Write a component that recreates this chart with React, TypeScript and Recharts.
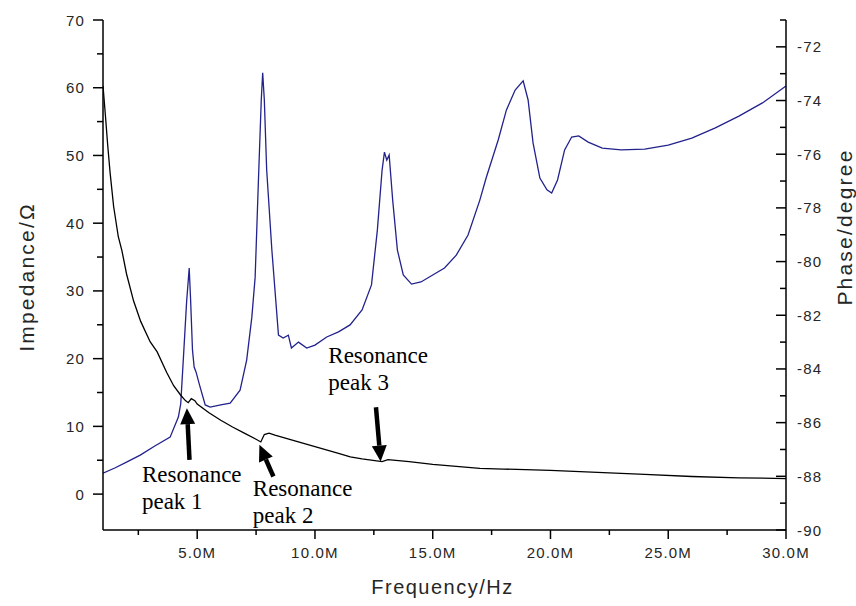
import React from "react";
import { LineChart, Line, XAxis, YAxis, ReferenceLine, ReferenceDot } from "recharts";

// phase (blue, right axis) — frequency in MHz, phase in degrees
const phaseFreq = [
  1.0, 1.5, 2.0, 2.58, 3.2, 3.85, 4.2, 4.3, 4.42, 4.55, 4.66, 4.72, 4.8, 4.87, 4.95, 5.1, 5.34, 5.55, 6.0,
  6.4, 6.82, 7.1, 7.32, 7.46, 7.6, 7.72, 7.78, 7.85, 7.95, 8.17, 8.45, 8.65, 8.87, 9.0, 9.3, 9.65, 10.0,
  10.5, 11.0, 11.49, 12.0, 12.4, 12.65, 12.85, 12.95, 13.05, 13.15, 13.3, 13.5, 13.75, 14.1, 14.5, 15.0,
  15.5, 16.0, 16.5, 17.0, 17.28, 17.78, 18.13, 18.5, 18.84, 19.05, 19.26, 19.55, 19.85, 20.05, 20.3, 20.6,
  20.9, 21.2, 21.6, 22.2, 23.0, 24.0, 25.0, 26.0, 27.0, 28.0, 29.0, 30.0,
];
const phaseDeg = [
  -87.88, -87.69, -87.47, -87.21, -86.87, -86.54, -85.79, -85.3, -83.5, -81.5, -80.24, -81.43, -83.3, -83.93,
  -84.11, -84.6, -85.34, -85.42, -85.34, -85.27, -84.79, -83.67, -82.07, -80.58, -76.96, -73.98, -72.97,
  -73.98, -76.59, -79.57, -82.74, -82.85, -82.74, -83.22, -83.0, -83.22, -83.11, -82.81, -82.62, -82.36,
  -81.8, -80.87, -78.82, -76.59, -75.92, -76.22, -76.03, -77.71, -79.57, -80.5, -80.84, -80.76, -80.5,
  -80.24, -79.76, -79.01, -77.71, -76.85, -75.47, -74.35, -73.61, -73.27, -73.98, -75.58, -76.89, -77.33,
  -77.45, -76.96, -75.84, -75.36, -75.32, -75.55, -75.77, -75.84, -75.81, -75.66, -75.4, -75.02, -74.58,
  -74.09, -73.46,
];

// impedance (black, left axis)
const impFreq = [
  1.0, 1.1, 1.2, 1.3, 1.45, 1.65, 1.8, 2.0, 2.3, 2.6, 3.0, 3.3, 3.7, 4.0, 4.3, 4.5, 4.62, 4.75, 4.9, 5.0,
  5.5, 6.0, 6.5, 7.0, 7.5, 7.7, 7.85, 8.05, 8.3, 9.0, 10.0, 11.0, 11.5, 12.0, 12.85, 13.1, 14.0, 15.0, 16.0,
  17.0, 18.0, 20.0, 22.0, 24.0, 26.0, 28.0, 30.0,
];
const impOhm = [
  60.3, 56, 51.5, 47.5, 42.5, 38, 36, 32.5, 28.5, 25.5, 22.5, 21, 18, 16, 14.6, 13.8, 13.5, 14.1, 13.8, 13.3,
  12.0, 10.9, 9.9, 9.0, 8.1, 7.7, 8.8, 9.0, 8.7, 8.0, 7.0, 6.0, 5.5, 5.2, 4.8, 5.1, 4.8, 4.4, 4.1, 3.8, 3.7,
  3.5, 3.2, 2.9, 2.6, 2.4, 2.3,
];

const xTicks = [2.5, 5, 7.5, 10, 12.5, 15, 17.5, 20, 22.5, 25, 27.5, 30];
const leftTicks = [0, 5, 10, 15, 20, 25, 30, 35, 40, 45, 50, 55, 60, 65, 70];
const rightTicks = [-90, -89, -88, -87, -86, -85, -84, -83, -82, -81, -80, -79, -78, -77, -76, -75, -74, -73, -72, -71];

// annotations, in data coordinates (MHz, Ω)
const noteLabels = [
  ["Resonance", "peak 1"],
  ["Resonance", "peak 2"],
  ["Resonance", "peak 3"],
];
const noteTextAt = [
  [2.654, 1.86],
  [7.361, -0.35],
  [10.567, 19.41],
];
const arrowTail = [
  [4.673, 5.06],
  [8.235, 2.6],
  [12.59, 12.83],
];
const arrowTip = [
  [4.562, 12.68],
  [7.641, 7.27],
  [12.79, 4.81],
];

const phaseData = phaseFreq.map((f, i) => ({ f, v: phaseDeg[i] }));
const impData = impFreq.map((f, i) => ({ f, v: impOhm[i] }));

const SANS = "'Liberation Sans', Arial, sans-serif";
const SERIF = "'Liberation Serif', 'Times New Roman', serif";
const TXT = "#262626";

const LeftTick = ({ x, y, payload }: any) => {
  const major = payload.value % 10 === 0;
  return (
    <g>
      <line x1={x - (major ? 10 : 6)} x2={x} y1={y} y2={y} stroke="#000" strokeWidth={1.5} />
      {major && (
        <text x={x - 18} y={y + 5.5} textAnchor="end" fontFamily={SANS} fontSize={15} letterSpacing={1.2} fill={TXT}>
          {payload.value}
        </text>
      )}
    </g>
  );
};

const RightTick = ({ x, y, payload }: any) => {
  const major = payload.value % 2 === 0;
  return (
    <g>
      <line x1={x - (major ? 10 : 6)} x2={x} y1={y} y2={y} stroke="#000" strokeWidth={1.5} />
      {major && (
        <text x={x + 11} y={y + 5.5} textAnchor="start" fontFamily={SANS} fontSize={15} letterSpacing={1.2} fill={TXT}>
          {payload.value}
        </text>
      )}
    </g>
  );
};

const BottomTick = ({ x, y, payload }: any) => {
  const major = payload.value % 5 === 0;
  return (
    <g>
      <line x1={x} x2={x} y1={y} y2={y + (major ? 9 : 5)} stroke="#000" strokeWidth={1.5} />
      {major && (
        <text x={x} y={y + 28} textAnchor="middle" fontFamily={SANS} fontSize={15} letterSpacing={1.2} fill={TXT}>
          {payload.value.toFixed(1) + "M"}
        </text>
      )}
    </g>
  );
};

const Arrow = ({ x1, y1, x2, y2 }: any) => {
  const dx = x2 - x1;
  const dy = y2 - y1;
  const len = Math.sqrt(dx * dx + dy * dy);
  const ux = dx / len;
  const uy = dy / len;
  const head = 16;
  const half = 7.5;
  const bx = x2 - ux * head;
  const by = y2 - uy * head;
  return (
    <g>
      <line x1={x1} y1={y1} x2={bx} y2={by} stroke="#000" strokeWidth={4.5} />
      <polygon
        points={`${x2},${y2} ${bx - uy * half},${by + ux * half} ${bx + uy * half},${by - ux * half}`}
        fill="#000"
      />
    </g>
  );
};

const NoteText = (lines: string[]) => ({ cx, cy }: any) => (
  <text x={cx} y={cy} fontFamily={SERIF} fontSize={23} fill="#000">
    {lines.map((s, i) => (
      <tspan key={i} x={cx} dy={i === 0 ? 0 : 27}>
        {s}
      </tspan>
    ))}
  </text>
);

const VTitle = (text: string, dxFromLeft: number, cyOffset: number) => ({ viewBox }: any) => {
  const x = viewBox.x + dxFromLeft;
  const y = viewBox.y + viewBox.height / 2 + cyOffset;
  return (
    <text
      x={x}
      y={y}
      transform={`rotate(-90, ${x}, ${y})`}
      textAnchor="middle"
      dominantBaseline="central"
      fontFamily={SANS}
      fontSize={21}
      letterSpacing={2.2}
      fill={TXT}
    >
      {text}
    </text>
  );
};

const XTitle = ({ viewBox }: any) => (
  <text
    x={viewBox.x + viewBox.width / 2 - 2}
    y={viewBox.y + 64}
    textAnchor="middle"
    fontFamily={SANS}
    fontSize={20}
    letterSpacing={1.5}
    fill={TXT}
  >
    Frequency/Hz
  </text>
);

export default function App() {
  return (
    <div style={{ position: "absolute", left: 0, top: 0, background: "#fff" }}>
      <LineChart width={856} height={606} margin={{ top: 20, right: 0, bottom: 0, left: 0 }}>
        <XAxis
          type="number"
          dataKey="f"
          domain={[1, 30]}
          allowDataOverflow
          ticks={xTicks}
          interval={0}
          height={76}
          tickSize={0}
          tickMargin={0}
          tickLine={false}
          tick={BottomTick}
          axisLine={{ stroke: "#000", strokeWidth: 1.5 }}
          label={{ content: XTitle }}
        />
        <YAxis
          yAxisId="left"
          type="number"
          domain={[-5.3, 70]}
          allowDataOverflow
          ticks={leftTicks}
          interval={0}
          width={103}
          tickSize={0}
          tickMargin={0}
          tickLine={false}
          tick={LeftTick}
          axisLine={{ stroke: "#000", strokeWidth: 1.5 }}
          label={{ content: VTitle("Impedance/Ω", 26, 2) }}
        />
        <YAxis
          yAxisId="right"
          orientation="right"
          type="number"
          domain={[-90, -71]}
          allowDataOverflow
          ticks={rightTicks}
          interval={0}
          width={70}
          tickSize={0}
          tickMargin={0}
          tickLine={false}
          tick={RightTick}
          axisLine={{ stroke: "#000", strokeWidth: 1.5 }}
          label={{ content: VTitle("Phase/degree", 58, -48) }}
        />
        <Line
          data={phaseData}
          dataKey="v"
          yAxisId="right"
          type="linear"
          stroke="#22228c"
          strokeWidth={1.3}
          dot={false}
          isAnimationActive={false}
        />
        <Line
          data={impData}
          dataKey="v"
          yAxisId="left"
          type="linear"
          stroke="#000"
          strokeWidth={1.3}
          dot={false}
          isAnimationActive={false}
        />
        {arrowTail.map((t, i) => (
          <ReferenceLine
            key={"a" + i}
            yAxisId="left"
            segment={[
              { x: t[0], y: t[1] },
              { x: arrowTip[i][0], y: arrowTip[i][1] },
            ]}
            shape={Arrow}
          />
        ))}
        {noteTextAt.map((p, i) => (
          <ReferenceDot key={"t" + i} yAxisId="left" x={p[0]} y={p[1]} r={0} shape={NoteText(noteLabels[i])} />
        ))}
      </LineChart>
    </div>
  );
}
